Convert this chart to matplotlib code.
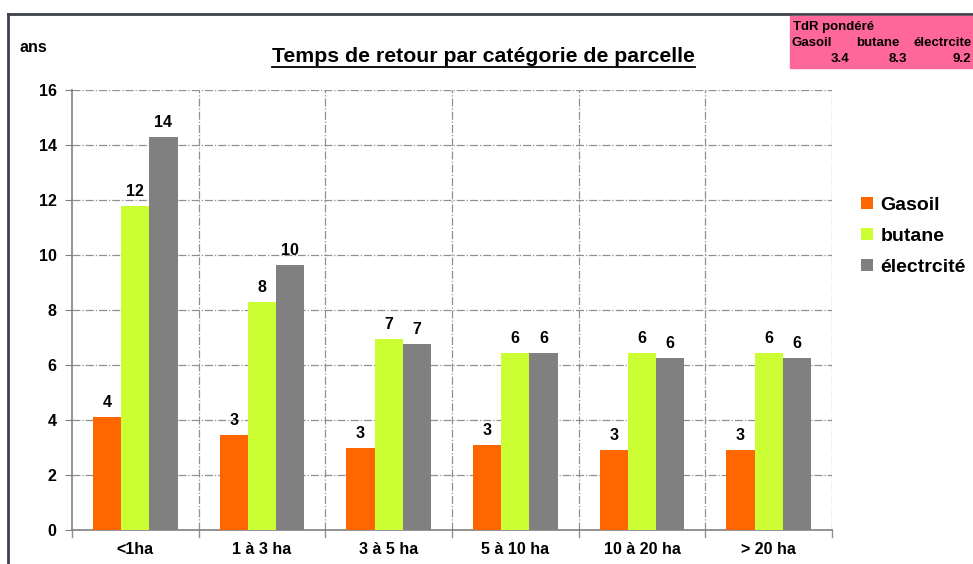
import numpy as np
import matplotlib.pyplot as plt
from matplotlib.patches import Rectangle
from matplotlib.lines import Line2D

plt.rcParams['font.family'] = ['Liberation Sans', 'DejaVu Sans']

categories = ['<1ha', '1 à 3 ha', '3 à 5 ha', '5 à 10 ha', '10 à 20 ha', '> 20 ha']
gasoil = [4.1, 3.45, 3.0, 3.1, 2.9, 2.9]
butane = [11.8, 8.3, 6.95, 6.45, 6.45, 6.45]
electricite = [14.3, 9.65, 6.75, 6.45, 6.25, 6.25]
series_names = ['Gasoil', 'butane', 'électrcité']
colors = ['#FF6600', '#CCFF33', '#808080']
pondere = [3.4, 8.3, 9.2]
pondere_names = ['Gasoil', 'butane', 'électrcite']

fig = plt.figure(figsize=(9.73, 5.64), dpi=100)
ax = fig.add_axes([72 / 973, 1 - 530 / 564, 760 / 973, 440 / 564])

x = np.arange(len(categories))
w = 0.222
for i, (vals, c, name) in enumerate(zip([gasoil, butane, electricite], colors, series_names)):
    pos = x + (i - 1) * w
    ax.bar(pos, vals, width=w, color=c, label=name, zorder=3)
    for p, v in zip(pos, vals):
        ax.text(p, v + 0.25, '%.0f' % v, ha='center', va='bottom',
                fontsize=11.5, fontweight='bold')

ax.set_xlim(-0.5, len(categories) - 0.5)
ax.set_ylim(0, 16)
ax.set_yticks(range(0, 17, 2))
ax.set_xticks(x)
ax.set_xticklabels(categories, fontsize=11.5, fontweight='bold')
for lab in ax.get_yticklabels():
    lab.set_fontsize(11.5)
    lab.set_fontweight('bold')
ax.tick_params(axis='x', length=0, pad=9)
ax.tick_params(axis='y', length=5, color='#808080', pad=6)

# grid
for yv in range(2, 17, 2):
    ax.axhline(yv, color='#909090', lw=0.9, ls='-.', zorder=1)
for xv in np.arange(0.5, len(categories), 1.0):
    ax.axvline(xv, color='#909090', lw=0.9, ls='-.', zorder=1)
for xv in np.arange(-0.5, len(categories), 1.0):
    ax.plot([xv, xv], [0, -0.25], color='#909090', lw=1, clip_on=False)

for s in ['top', 'right']:
    ax.spines[s].set_visible(False)
for s in ['left', 'bottom']:
    ax.spines[s].set_color('#808080')
    ax.spines[s].set_linewidth(1.2)

leg = ax.legend(loc='center left', bbox_to_anchor=(1.015, 0.668), frameon=False,
                prop={'size': 14, 'weight': 'bold'}, handlelength=0.6,
                handleheight=0.6, handletextpad=0.4, labelspacing=0.72)

fig.text(483 / 973, 1 - 57 / 564, 'Temps de retour par catégorie de parcelle',
         ha='center', va='center', fontsize=15.3, fontweight='bold')
fig.add_artist(Line2D([272 / 973, 695 / 973], [1 - 67 / 564, 1 - 67 / 564],
                      color='black', lw=1.3))
fig.text(20 / 973, 1 - 47 / 564, 'ans', ha='left', va='center',
         fontsize=11.5, fontweight='bold')

# outer frame
fig.add_artist(Line2D([8 / 973, 8 / 973], [0, 1 - 14 / 564], color='#3c424c', lw=2))
fig.add_artist(Line2D([8 / 973, 1], [1 - 14 / 564, 1 - 14 / 564], color='#3c424c', lw=2))

# pink box
fig.add_artist(Rectangle((790 / 973, 1 - 68 / 564), 190 / 973, 52 / 564,
                         transform=fig.transFigure, color='#FF6699', zorder=5))
fig.text(793 / 973, 1 - 27 / 564, 'TdR pondéré', fontsize=9.5, fontweight='bold',
         va='center', zorder=6)
name_x = [792, 856, 913]
val_x = [849, 907, 971]
for nx, vx, n, v in zip(name_x, val_x, pondere_names, pondere):
    fig.text(nx / 973, 1 - 43 / 564, n, fontsize=9.5, fontweight='bold',
             va='center', zorder=6)
    fig.text(vx / 973, 1 - 59 / 564, '%.1f' % v, fontsize=9.5, fontweight='bold',
             va='center', ha='right', zorder=6)

fig.savefig('out.png', dpi=100)
